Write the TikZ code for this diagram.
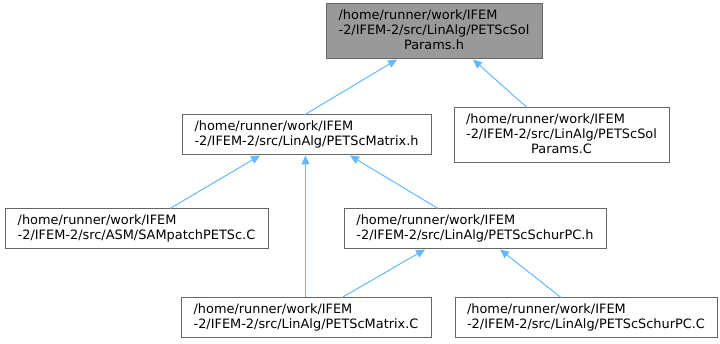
\documentclass[tikz,border=0pt]{standalone}
\usepackage{fontspec}
\setmainfont{DejaVu Sans}
\usepackage{tikz}
\usetikzlibrary{arrows.meta,positioning}
\usepackage{xcolor}
\definecolor{edgeblue}{HTML}{63B8FF}
\definecolor{boxgrey}{HTML}{666666}
\definecolor{curfill}{HTML}{999999}

\newcommand{\twoline}[2]{\begin{tabular}{@{}l@{}}#1\\#2\end{tabular}}
\newcommand{\threeline}[3]{\begin{tabular}{@{}l@{}}#1\\#2\\\multicolumn{1}{@{}c@{}}{#3}\end{tabular}}

\begin{document}
\begin{tikzpicture}[
  x=1pt, y=-1pt,
  file/.style={draw=boxgrey, line width=1pt, fill=white, inner sep=0pt,
               font=\fontsize{12.9}{15}\selectfont, minimum height=40pt},
  current/.style={fill=curfill, minimum height=55pt},
  incl/.style={draw=edgeblue, line width=1pt,
               -{Triangle[length=9pt,width=8pt]}},
]
  \useasboundingbox (0,0) rectangle (720,344);
  \renewcommand{\arraystretch}{1}\setlength{\tabcolsep}{0pt}

  % Files
  \node[file, current, minimum width=216pt] (solh) at (434,31.5)
    {\threeline{/home/runner/work/IFEM}{-2/IFEM-2/src/LinAlg/PETScSol}{Params.h}};
  \node[file, minimum width=249pt] (math) at (306.5,135)
    {\twoline{/home/runner/work/IFEM}{-2/IFEM-2/src/LinAlg/PETScMatrix.h}};
  \node[file, minimum width=215pt, minimum height=55pt] (solc) at (561.5,135.5)
    {\threeline{/home/runner/work/IFEM}{-2/IFEM-2/src/LinAlg/PETScSol}{Params.C}};
  \node[file, minimum width=263pt] (sampc) at (136.5,229)
    {\twoline{/home/runner/work/IFEM}{-2/IFEM-2/src/ASM/SAMpatchPETSc.C}};
  \node[file, minimum width=262pt] (schurh) at (475,229)
    {\twoline{/home/runner/work/IFEM}{-2/IFEM-2/src/LinAlg/PETScSchurPC.h}};
  \node[file, minimum width=250pt] (matc) at (306,318)
    {\twoline{/home/runner/work/IFEM}{-2/IFEM-2/src/LinAlg/PETScMatrix.C}};
  \node[file, minimum width=262pt] (schurc) at (586,318)
    {\twoline{/home/runner/work/IFEM}{-2/IFEM-2/src/LinAlg/PETScSchurPC.C}};

  % Includes
  \draw[incl] ([xshift=-1.5pt]math.north) -- ([xshift=-37pt]solh.south);
  \draw[incl] ([xshift=-34.5pt]solc.north) -- ([xshift=39pt]solh.south);
  \draw[incl] ([xshift=33.5pt]sampc.north) -- ([xshift=-46.5pt]math.south);
  \draw[incl] ([xshift=-0.5pt]matc.north) -- ([xshift=-1pt]math.south);
  \draw[incl] ([xshift=-37pt]schurh.north) -- ([xshift=43.5pt]math.south);
  \draw[incl] ([xshift=36pt]matc.north) -- ([xshift=-50pt]schurh.south);
  \draw[incl] ([xshift=-25pt]schurc.north) -- ([xshift=25pt]schurh.south);
\end{tikzpicture}
\end{document}
